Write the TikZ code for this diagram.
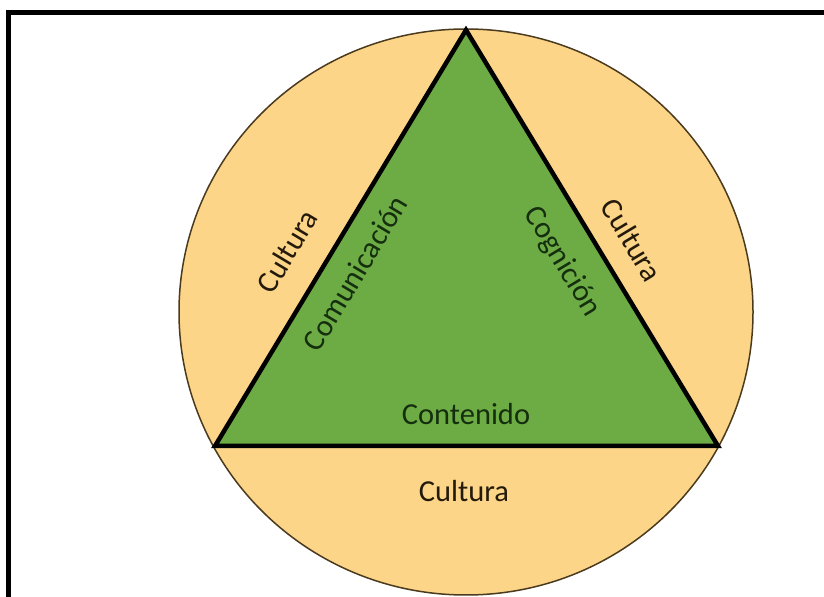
\documentclass[tikz,border=0pt]{standalone}
\usepackage{fontspec}
\setmainfont{Carlito}
\definecolor{culturafill}{HTML}{FDD588}
\definecolor{trianglefill}{HTML}{6DAB45}
\definecolor{circleline}{HTML}{4A3A1E}
\definecolor{textgreen}{HTML}{142E0E}
\definecolor{textbrown}{HTML}{231A0C}
\begin{document}
\begin{tikzpicture}[x=1bp,y=1bp,
  lbl/.style={inner sep=0pt, font=\fontsize{30.5bp}{36bp}\selectfont},
  onorange/.style={lbl, text=textbrown},
  ongreen/.style={lbl, text=textgreen}]
\useasboundingbox (0,0) rectangle (824,597);
% frame
\draw[line width=5bp] (8,584.5) rectangle (850,-30);
% circle of culture
\draw[fill=culturafill, draw=circleline, line width=1.5bp] (466,285) ellipse [x radius=287, y radius=283];
% triangle
\coordinate (apex) at (466,567);
\coordinate (bl) at (215,151);
\coordinate (br) at (718,151);
\draw[fill=trianglefill, line width=4.5bp, line join=miter] (apex) -- (bl) -- (br) -- cycle;
% labels
\node[onorange, rotate=59] (cultL) at (287,346) {Cultura};
\node[ongreen, rotate=59] (comu) at (355,324) {Comunicación};
\node[ongreen, rotate=-59] (cogn) at (562,335) {Cognición};
\node[onorange, rotate=-59] (cultR) at (632,357) {Cultura};
\node[ongreen] (cont) at (466,183) {Contenido};
\node[onorange] (cultB) at (464,106) {Cultura};
\end{tikzpicture}
\end{document}
